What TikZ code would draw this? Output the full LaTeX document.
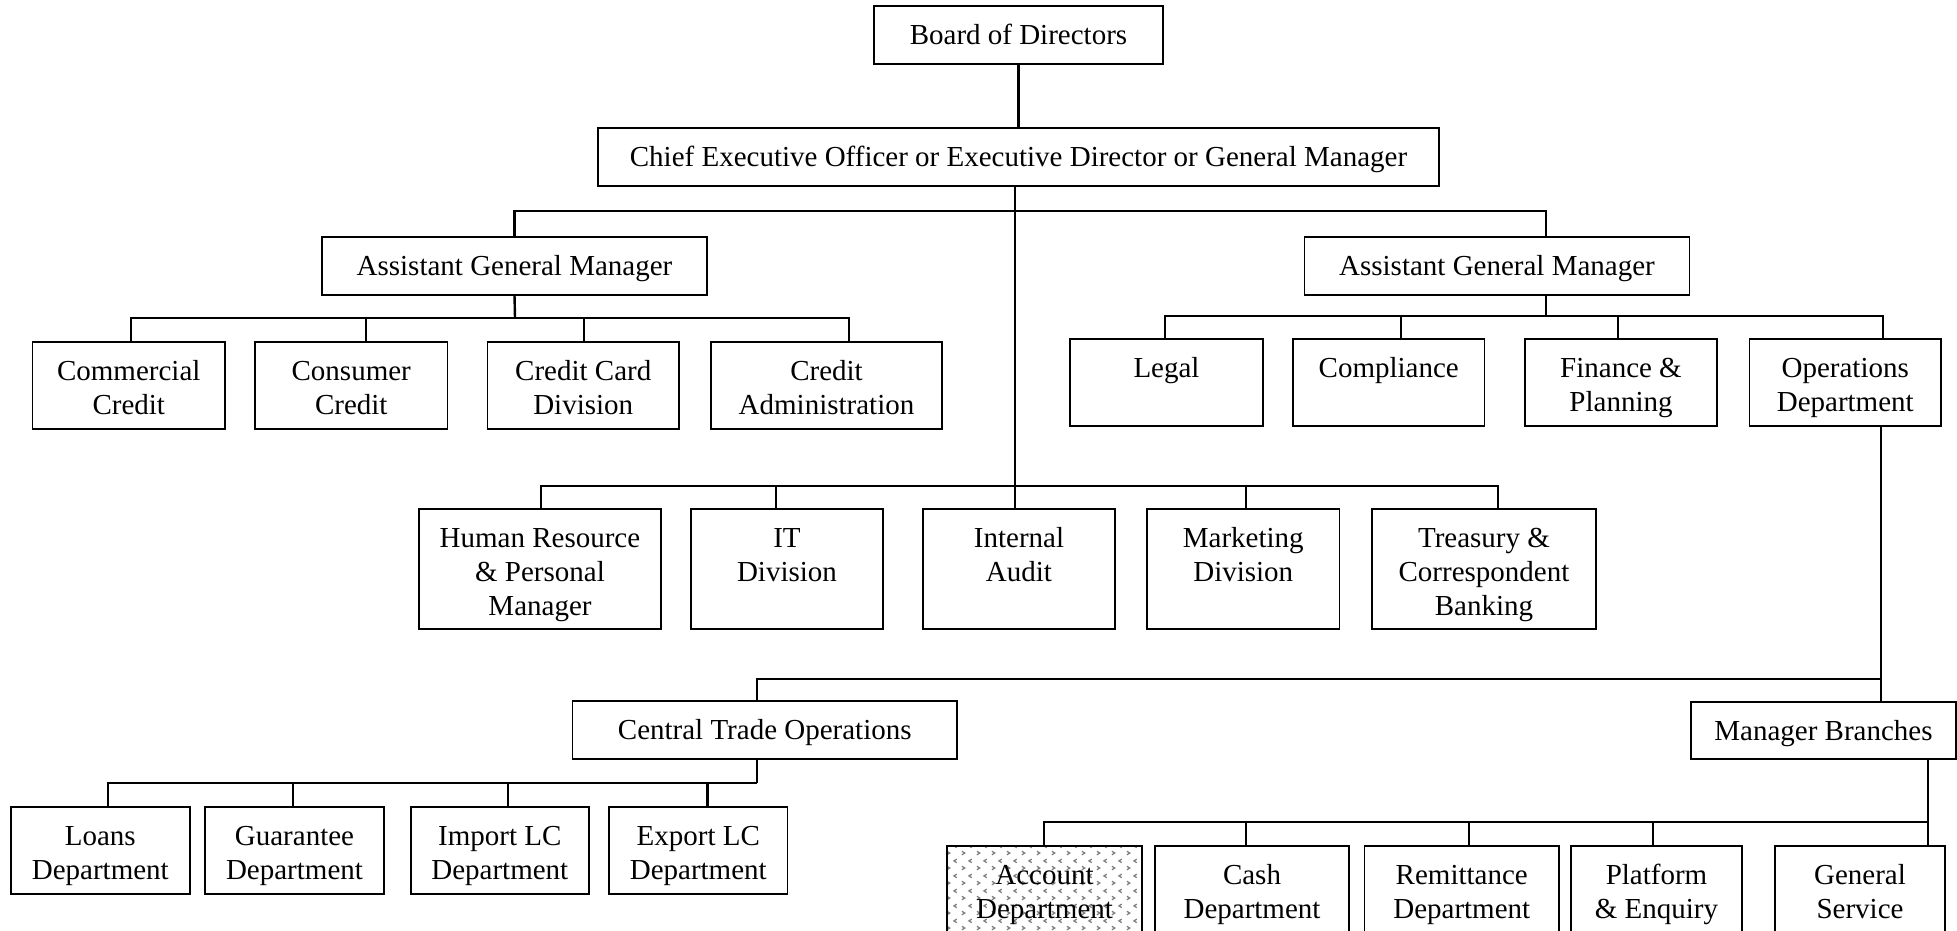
\documentclass[tikz,border=0pt]{standalone}
\usepackage{fontspec}
\setmainfont{Liberation Serif}
\usetikzlibrary{patterns}

% small chevron marks used as the fill of the shaded unit
\pgfdeclarepatternformonly{chevrons}{\pgfqpoint{0pt}{0pt}}{\pgfqpoint{15pt}{14.6pt}}{\pgfqpoint{15pt}{14.6pt}}{%
  \pgfsetlinewidth{1.3pt}%
  \pgfpathmoveto{\pgfqpoint{2pt}{1.2pt}}\pgfpathlineto{\pgfqpoint{5pt}{3pt}}\pgfpathlineto{\pgfqpoint{2pt}{4.8pt}}%
  \pgfpathmoveto{\pgfqpoint{12.5pt}{8.5pt}}\pgfpathlineto{\pgfqpoint{9.5pt}{10.3pt}}\pgfpathlineto{\pgfqpoint{12.5pt}{12.1pt}}%
  \pgfusepath{stroke}}

% \orgunit[extra style]{name}{centre}{width}{height}{text}: a box whose text hangs from its top
\newcommand\orgunit[6][]{%
  \node[unit,#1] (#2) at (#3) {\parbox[c][#5][t]{#4}{\centering\rule{0pt}{38.5pt}#6}};}

\begin{document}
\begin{tikzpicture}[x=1pt,y=-1pt,
  unit/.style={draw,line width=1.8pt,inner sep=0pt,outer sep=0pt,
    font=\fontsize{29}{34}\selectfont},
  shaded/.style={pattern=chevrons,pattern color=black!50},
  wire/.style={line width=2.4pt,line join=miter}]

\useasboundingbox (0,0) rectangle (1957,931);
\fill[white] (0,0) rectangle (1957,931);
\clip (0,0) rectangle (1957,931);

% top of the hierarchy
\orgunit{board}{1018.5,35}{289pt}{58pt}{Board of Directors}
\orgunit{ceo}{1018.5,157}{841pt}{58pt}{Chief Executive Officer or Executive Director or General Manager}
\orgunit{agmL}{514.5,266}{385pt}{58pt}{Assistant General Manager}
\orgunit{agmR}{1497,266}{385pt}{58pt}{Assistant General Manager}

% credit side
\orgunit{cc}{128.75,385.5}{192.5pt}{87pt}{Commercial\\Credit}
\orgunit{consumer}{351.25,385.5}{192.5pt}{87pt}{Consumer\\Credit}
\orgunit{ccd}{583.25,385.5}{191.5pt}{87pt}{Credit Card\\Division}
\orgunit{cadmin}{826.5,385.5}{231pt}{87pt}{Credit\\Administration}

% support side
\orgunit{legal}{1166.5,382.5}{193pt}{87pt}{Legal\\\mbox{}}
\orgunit{compliance}{1388.75,382.5}{191.5pt}{87pt}{Compliance\\\mbox{}}
\orgunit{finance}{1621,382.5}{192pt}{87pt}{Finance \&\\Planning}
\orgunit{ops}{1845.25,382.5}{191.5pt}{87pt}{Operations\\Department}

% divisions under the chief executive
\orgunit{hr}{540,569}{242pt}{120pt}{Human Resource\\\& Personal\\Manager}
\orgunit{it}{787,569}{192pt}{120pt}{IT\\Division}
\orgunit{ia}{1019,569}{192pt}{120pt}{Internal\\Audit}
\orgunit{mkt}{1243.25,569}{192.5pt}{120pt}{Marketing\\Division}
\orgunit{treasury}{1484,569}{224pt}{120pt}{Treasury \&\\Correspondent\\Banking}

% operations
\orgunit{cto}{764.75,730}{384.5pt}{58pt}{Central Trade Operations}
\orgunit{mb}{1823.5,730.5}{265pt}{57pt}{Manager Branches}

\orgunit{loans}{100.3,850.5}{179.4pt}{87pt}{Loans\\Department}
\orgunit{guarantee}{294.5,850.5}{179pt}{87pt}{Guarantee\\Department}
\orgunit{importlc}{499.8,850.5}{178.4pt}{87pt}{Import LC\\Department}
\orgunit{exportlc}{698.25,850.5}{178.5pt}{87pt}{Export LC\\Department}

\orgunit[shaded]{account}{1044.5,896}{195pt}{100pt}{Account\\Department}
\orgunit{cash}{1252,896}{194.5pt}{100pt}{Cash\\Department}
\orgunit{remit}{1461.75,896}{194.5pt}{100pt}{Remittance\\Department}
\orgunit{platform}{1656.5,896}{171pt}{100pt}{Platform\\\& Enquiry}
\orgunit{general}{1860,896}{170pt}{100pt}{General\\Service}

% junction points of the connectors
\coordinate (busA) at (1015,211);
\coordinate (busB) at (515,318);
\coordinate (busC) at (1546,316);
\coordinate (busD) at (1015,486);
\coordinate (busE) at (1881,679);
\coordinate (busF) at (757,783);
\coordinate (busG) at (1928,822);

% connectors
\draw[wire] (board.south) -- (ceo.north);
\draw[wire] ([xshift=-3.5pt]ceo.south) -- ([xshift=-4pt]ia.north);
\draw[wire] (agmL.north) |- (busA);
\draw[wire] ([xshift=49pt]agmR.north) |- (busA);

\draw[wire] (agmL.south) -- (busB);
\draw[wire] ([xshift=2.25pt]cc.north) |- (busB);
\draw[wire] ([xshift=14.75pt]consumer.north) |- (busB);
\draw[wire] ([xshift=0.75pt]ccd.north) |- (busB);
\draw[wire] ([xshift=22.5pt]cadmin.north) |- (busB);

\draw[wire] ([xshift=49pt]agmR.south) -- (busC);
\draw[wire] ([xshift=-1.5pt]legal.north) |- (busC);
\draw[wire] ([xshift=12.25pt]compliance.north) |- (busC);
\draw[wire] ([xshift=-3pt]finance.north) |- (busC);
\draw[wire] ([xshift=37.75pt]ops.north) |- (busC);

\draw[wire] ([xshift=1pt]hr.north) |- (busD);
\draw[wire] ([xshift=-11pt]it.north) |- (busD);
\draw[wire] ([xshift=2.75pt]mkt.north) |- (busD);
\draw[wire] ([xshift=14pt]treasury.north) |- (busD);

\draw[wire] ([xshift=35.75pt]ops.south) -- ([xshift=57.5pt]mb.north);
\draw[wire] ([xshift=-7.75pt]cto.north) |- (busE);

\draw[wire] ([xshift=-7.75pt]cto.south) -- (busF);
\draw[wire] ([xshift=7.7pt]loans.north) |- (busF);
\draw[wire] ([xshift=-1.5pt]guarantee.north) |- (busF);
\draw[wire] ([xshift=8.2pt]importlc.north) |- (busF);
\draw[wire] ([xshift=9.25pt]exportlc.north) |- (busF);

\draw[wire] ([xshift=104.5pt]mb.south) -- (busG);
\draw[wire] ([xshift=-0.5pt]account.north) |- (busG);
\draw[wire] ([xshift=-6pt]cash.north) |- (busG);
\draw[wire] ([xshift=7.25pt]remit.north) |- (busG);
\draw[wire] ([xshift=-3.5pt]platform.north) |- (busG);
\draw[wire] ([xshift=68pt]general.north) |- (busG);
\end{tikzpicture}
\end{document}
